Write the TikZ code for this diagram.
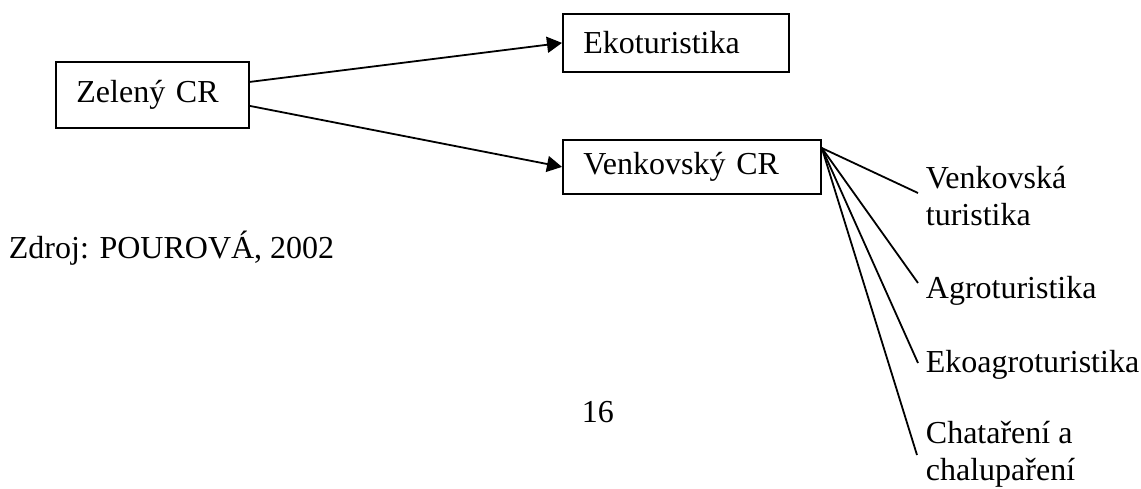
\documentclass[tikz,border=0pt]{standalone}
\usepackage{fontspec}
\setmainfont{Liberation Serif}
\usetikzlibrary{arrows.meta}

\begin{document}
\begin{tikzpicture}[x=0.5pt, y=-0.5pt, line width=0.9pt,
  box/.style={shape=rectangle, draw=black, anchor=north west, inner xsep=10.25pt, align=left},
  lbl/.style={shape=rectangle, draw=none, inner sep=0pt, anchor=base west, align=left},
  tip/.style={-{Triangle[length=7.5pt,width=8pt]}}]
%%%%%%%%%%%%%%%%%%%%%%%%%%%%%%%%%%%%%%%%%%% HELP LINES
%\draw[help lines] (0,0) grid +(1141,488);
\useasboundingbox (0,0) rectangle (1141,488);
\fontsize{16pt}{18.5pt}\selectfont

%%%%%%%%%%%%%%%%%%%%%%%%%%%%%%%%%%%%%%%%%%% boxes
\node[box, minimum height=33pt, text width=76pt](zel) at (55,61) {Zelený CR};
\node[box, minimum height=29pt, text width=92.5pt](eko) at (562,13) {Ekoturistika};
\node[box, minimum height=27pt, text width=108.5pt](venk) at (562,139) {Venkovský CR};

%%%%% arrows
\draw[tip] ([yshift=6.5pt]zel.east) -- (eko.west);
\draw[tip] ([yshift=-5.5pt]zel.east) -- (venk.west);

%%%%% forms of rural tourism (base = last line)
\node[lbl](vt) at (925,225) {Venkovská\\turistika};
\node[lbl](agro) at (925,298) {Agroturistika};
\node[lbl](ekoagro) at (925,372) {Ekoagroturistika};
\node[lbl](chata) at (925,480) {Chataření a\\chalupaření};

\coordinate (fan) at ([yshift=-4.5pt]venk.north east);
\coordinate (e1) at (918,193);
\coordinate (e2) at (918,283);
\coordinate (e3) at (918,363);
\coordinate (e4) at (917,455);
\foreach \e in {e1,e2,e3,e4}
  \draw (fan) -- (\e);

%%%%% source and page
\node[lbl](src) at (8,258) {Zdroj: POUROVÁ, 2002};
\node[lbl](page) at (581,422) {16};
\end{tikzpicture}
\end{document}
